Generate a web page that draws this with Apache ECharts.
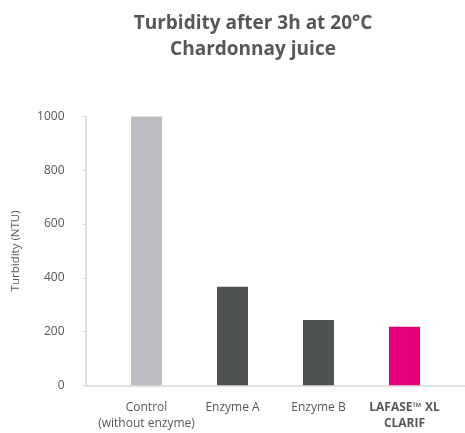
<!DOCTYPE html>
<html>
<head>
<meta charset="utf-8">
<script src="https://cdn.jsdelivr.net/npm/echarts@6/dist/echarts.min.js"></script>
<style>
  html, body { margin: 0; padding: 0; background: #fff; }
  #chart { width: 465px; height: 433px; }
</style>
</head>
<body>
<div id="chart"></div>
<script>
// chart data
const categories = ['Control\n(without enzyme)', 'Enzyme A', 'Enzyme B', 'LAFASE™ XL\nCLARIF'];
const turbidity = [1000, 367, 243, 218];
const barColors = ['#bcbdc1', '#4f5253', '#4f5253', '#e5007a'];
const yTicks = [0, 200, 400, 600, 800, 1000];

const TEXT = '#555759';
const AXIS = '#d6d8d8';
const FONT = '"Open Sans", "Noto Sans", sans-serif';

const chart = echarts.init(document.getElementById('chart'), null, { renderer: 'canvas' });

const option = {
    animation: false,
    title: {
        text: 'Turbidity after 3h at 20°C\nChardonnay juice',
        left: 248,
        textAlign: 'center',
        top: 6,
        textStyle: { fontFamily: FONT, fontSize: 19, fontWeight: 'bold', color: TEXT, lineHeight: 26 }
    },
    grid: [
        // bar area
        { left: 103.5, right: 17.5, top: 116.5, bottom: 47.7 },
        // frame for the axes lines
        { left: 85.5, right: 0, top: 116.5, bottom: 47.7 }
    ],
    xAxis: [
        {
            type: 'category',
            gridIndex: 0,
            data: categories,
            axisLine: { show: false },
            axisTick: { show: false },
            axisLabel: {
                margin: 14,
                interval: 0,
                fontFamily: FONT,
                fontSize: 12,
                lineHeight: 16,
                color: TEXT,
                formatter: function (v, i) {
                    return i === 3 ? '{b|' + v.split('\n').join('}\n{b|') + '}' : v;
                },
                rich: { b: { fontFamily: FONT, fontSize: 12, fontWeight: 'bold', color: TEXT, lineHeight: 16 } }
            }
        },
        {
            type: 'value',
            gridIndex: 1,
            min: 0,
            max: 1,
            axisLine: { show: true, lineStyle: { color: AXIS, width: 1.5 } },
            axisTick: { show: false },
            axisLabel: { show: false },
            splitLine: { show: false }
        }
    ],
    yAxis: [
        {
            type: 'value',
            gridIndex: 0,
            min: yTicks[0],
            max: yTicks[yTicks.length - 1],
            interval: 200,
            show: false
        },
        {
            type: 'value',
            gridIndex: 1,
            min: yTicks[0],
            max: yTicks[yTicks.length - 1],
            interval: 200,
            name: 'Turbidity (NTU)',
            nameLocation: 'middle',
            nameGap: 64,
            nameTextStyle: { fontFamily: FONT, fontSize: 11.5, color: TEXT },
            axisLine: { show: true, lineStyle: { color: AXIS, width: 1.5 } },
            axisTick: { show: true, length: 3, lineStyle: { color: AXIS } },
            axisLabel: {
                margin: 21,
                fontFamily: FONT,
                fontSize: 12,
                color: TEXT,
                formatter: function (v) { return String(v); }
            },
            splitLine: { show: false }
        }
    ],
    series: [
        {
            type: 'bar',
            xAxisIndex: 0,
            yAxisIndex: 0,
            barWidth: 31,
            data: turbidity.map((v, i) => ({ value: v, itemStyle: { color: barColors[i] } }))
        }
    ]
};

chart.setOption(option);
</script>
</body>
</html>
